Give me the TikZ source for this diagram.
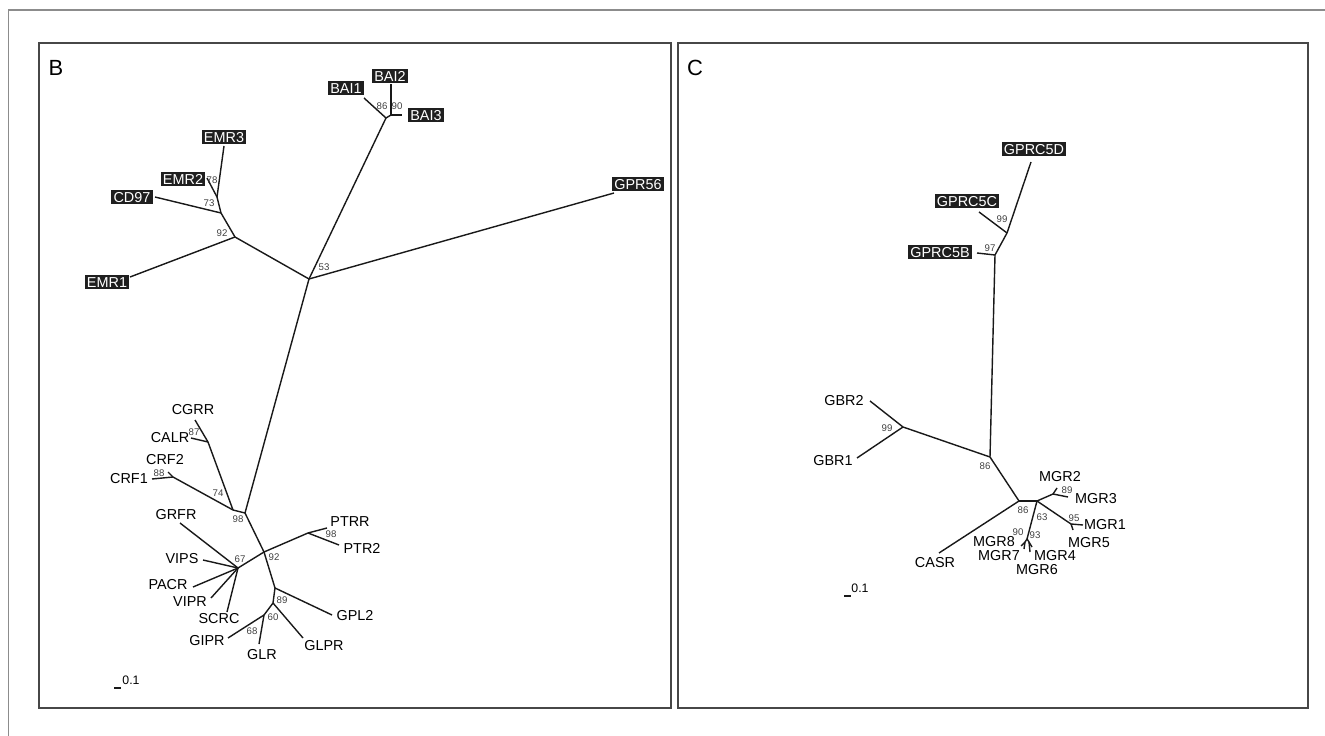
\documentclass[tikz,border=0pt]{standalone}
\usepackage{fontspec}
\setmainfont{Liberation Sans}
\begin{document}
\begin{tikzpicture}[
    x=0.02cm, y=-0.02cm,
    branch/.style={line width=0.8pt, black!90},
    frame/.style={draw=black!72, line width=1.1pt},
    leaf/.style={inner sep=0.8pt, font=\fontsize{8.2}{9}\selectfont},
    hilite/.style={leaf, fill=black!88, text=white, inner xsep=1.2pt, inner ysep=1pt, text height=6pt, text depth=0pt},
    boot/.style={inner sep=0pt, font=\fontsize{5.5}{6}\selectfont, text=black!75},
    panel/.style={inner sep=0pt, font=\fontsize{12.5}{14}\selectfont},
    scalebar/.style={inner sep=0pt, font=\fontsize{7}{8}\selectfont}
]
\useasboundingbox (0,0) rectangle (1325,736);

% outer frame and panels
\draw[black!45, line width=0.8pt] (8.5,736) -- (8.5,10) -- (1325,10);
\draw[frame] (39,43) rectangle (671,708);
\draw[frame] (678,43) rectangle (1308,708);
\node[panel] (labB) at (56,68) {B};
\node[panel] (labC) at (695,68) {C};

% ---------- panel B ----------
\coordinate (root) at (309,279);
\coordinate (bai) at (386,118);
\coordinate (bai23) at (391,115);
\coordinate (emr) at (235,237);
\coordinate (emrcd) at (221,213);
\coordinate (emr23) at (217,197);
\coordinate (secr) at (245,513);
\coordinate (ccrf) at (233,510);
\coordinate (calc) at (208,442);
\coordinate (crf) at (173,477);
\coordinate (glu) at (264,552);
\coordinate (pth) at (308,533);
\coordinate (vip) at (238,568);
\coordinate (gcg) at (275,588);
\coordinate (glp) at (273,603);
\coordinate (gip) at (264,615);

\coordinate (tBAI1) at (364,98);   \node[hilite] (BAI1) at (346,88) {BAI1};
\coordinate (tBAI2) at (391,84);   \node[hilite] (BAI2) at (390,76) {BAI2};
\coordinate (tBAI3) at (402,115);  \node[hilite] (BAI3) at (426,115) {BAI3};
\coordinate (tEMR3) at (224,146);  \node[hilite] (EMR3) at (224,137) {EMR3};
\coordinate (tEMR2) at (207,178);  \node[hilite] (EMR2) at (183,179) {EMR2};
\coordinate (tCD97) at (155,197);  \node[hilite] (CD97) at (132,197) {CD97};
\coordinate (tEMR1) at (130,277);  \node[hilite] (EMR1) at (107,282) {EMR1};
\coordinate (tGPR56) at (614,193); \node[hilite] (GPR56) at (638,184) {GPR56};
\coordinate (tCGRR) at (195,420);  \node[leaf] (CGRR) at (193,410) {CGRR};
\coordinate (tCALR) at (191,438);  \node[leaf] (CALR) at (170,438) {CALR};
\coordinate (tCRF2) at (168,472);  \node[leaf] (CRF2) at (165,460) {CRF2};
\coordinate (tCRF1) at (152,479);  \node[leaf] (CRF1) at (129,479) {CRF1};
\coordinate (tPTRR) at (327,528);  \node[leaf] (PTRR) at (350,522) {PTRR};
\coordinate (tPTR2) at (339,545);  \node[leaf] (PTR2) at (362,548) {PTR2};
\coordinate (tGRFR) at (180,523);  \node[leaf] (GRFR) at (176,515) {GRFR};
\coordinate (tVIPS) at (203,560);  \node[leaf] (VIPS) at (182,559) {VIPS};
\coordinate (tPACR) at (193,587);  \node[leaf] (PACR) at (168,585) {PACR};
\coordinate (tVIPR) at (211,598);  \node[leaf] (VIPR) at (190,602) {VIPR};
\coordinate (tSCRC) at (227,612);  \node[leaf] (SCRC) at (219,619) {SCRC};
\coordinate (tGPL2) at (332,615);  \node[leaf] (GPL2) at (355,616) {GPL2};
\coordinate (tGLPR) at (303,638);  \node[leaf] (GLPR) at (324,646) {GLPR};
\coordinate (tGLR) at (259,644);   \node[leaf] (GLR) at (262,655) {GLR};
\coordinate (tGIPR) at (228,638);  \node[leaf] (GIPR) at (207,641) {GIPR};

\draw[branch] (root) -- (bai);
\draw[branch] (bai) -- (tBAI1);
\draw[branch] (bai) -- (bai23);
\draw[branch] (bai23) -- (tBAI2);
\draw[branch] (bai23) -- (tBAI3);
\draw[branch] (root) -- (tGPR56);
\draw[branch] (root) -- (emr);
\draw[branch] (emr) -- (tEMR1);
\draw[branch] (emr) -- (emrcd);
\draw[branch] (emrcd) -- (tCD97);
\draw[branch] (emrcd) -- (emr23);
\draw[branch] (emr23) -- (tEMR2);
\draw[branch] (emr23) -- (tEMR3);
\draw[branch] (root) -- (secr);
\draw[branch] (secr) -- (ccrf);
\draw[branch] (ccrf) -- (calc);
\draw[branch] (calc) -- (tCGRR);
\draw[branch] (calc) -- (tCALR);
\draw[branch] (ccrf) -- (crf);
\draw[branch] (crf) -- (tCRF2);
\draw[branch] (crf) -- (tCRF1);
\draw[branch] (secr) -- (glu);
\draw[branch] (glu) -- (pth);
\draw[branch] (pth) -- (tPTRR);
\draw[branch] (pth) -- (tPTR2);
\draw[branch] (glu) -- (vip);
\foreach \lf in {GRFR,VIPS,PACR,VIPR,SCRC}
  \draw[branch] (vip) -- (t\lf);
\draw[branch] (glu) -- (gcg);
\draw[branch] (gcg) -- (tGPL2);
\draw[branch] (gcg) -- (glp);
\draw[branch] (glp) -- (tGLPR);
\draw[branch] (glp) -- (gip);
\draw[branch] (gip) -- (tGLR);
\draw[branch] (gip) -- (tGIPR);

% bootstrap values B
\node[boot] at (324,267) {53};
\node[boot] at (382,106) {86};
\node[boot] at (397,106) {90};
\node[boot] at (212,180) {78};
\node[boot] at (209,203) {73};
\node[boot] at (222,233) {92};
\node[boot] at (194,432) {87};
\node[boot] at (159,473) {88};
\node[boot] at (218,493) {74};
\node[boot] at (238,519) {98};
\node[boot] at (274,557) {92};
\node[boot] at (331,534) {98};
\node[boot] at (240,559) {67};
\node[boot] at (282,600) {89};
\node[boot] at (273,617) {60};
\node[boot] at (252,631) {68};

\draw[branch] (114,688) -- (121,688);
\node[scalebar] (sbB) at (131,680) {0.1};

% ---------- panel C ----------
\coordinate (gprc5) at (995,255);
\coordinate (gprc5cd) at (1007,233);
\coordinate (croot) at (990,457);
\coordinate (gbr) at (903,427);
\coordinate (mglu) at (1019,501);
\coordinate (mgr) at (1037,501);
\coordinate (mgr23) at (1053,494);
\coordinate (mgr15) at (1071,524);
\coordinate (mgrlow) at (1027,539);
\coordinate (mgr78) at (1025,542);
\coordinate (mgr46) at (1029,542);

\coordinate (tGPRC5D) at (1031,162); \node[hilite] (GPRC5D) at (1034,149) {GPRC5D};
\coordinate (tGPRC5C) at (979,212);  \node[hilite] (GPRC5C) at (967,201) {GPRC5C};
\coordinate (tGPRC5B) at (977,253);  \node[hilite] (GPRC5B) at (940,252) {GPRC5B};
\coordinate (tGBR2) at (870,401);    \node[leaf] (GBR2) at (844,401) {GBR2};
\coordinate (tGBR1) at (857,458);    \node[leaf] (GBR1) at (833,461) {GBR1};
\coordinate (tCASR) at (939,553);    \node[leaf] (CASR) at (935,563) {CASR};
\coordinate (tMGR2) at (1057,488);   \node[leaf] (MGR2) at (1060,477) {MGR2};
\coordinate (tMGR3) at (1068,497);   \node[leaf] (MGR3) at (1096,499) {MGR3};
\coordinate (tMGR1) at (1083,525);   \node[leaf] (MGR1) at (1105,525) {MGR1};
\coordinate (tMGR5) at (1073,530);   \node[leaf] (MGR5) at (1089,543) {MGR5};
\coordinate (tMGR8) at (1021,546);   \node[leaf] (MGR8) at (994,542) {MGR8};
\coordinate (tMGR7) at (1024,549);   \node[leaf] (MGR7) at (999,556) {MGR7};
\coordinate (tMGR4) at (1032,547);   \node[leaf] (MGR4) at (1055,556) {MGR4};
\coordinate (tMGR6) at (1030,552);   \node[leaf] (MGR6) at (1037,570) {MGR6};

\draw[branch] (croot) -- (gprc5);
\draw[branch] (gprc5) -- (tGPRC5B);
\draw[branch] (gprc5) -- (gprc5cd);
\draw[branch] (gprc5cd) -- (tGPRC5C);
\draw[branch] (gprc5cd) -- (tGPRC5D);
\draw[branch] (croot) -- (gbr);
\draw[branch] (gbr) -- (tGBR2);
\draw[branch] (gbr) -- (tGBR1);
\draw[branch] (croot) -- (mglu);
\draw[branch] (mglu) -- (tCASR);
\draw[branch] (mglu) -- (mgr);
\draw[branch] (mgr) -- (mgr23);
\draw[branch] (mgr23) -- (tMGR2);
\draw[branch] (mgr23) -- (tMGR3);
\draw[branch] (mgr) -- (mgr15);
\draw[branch] (mgr15) -- (tMGR1);
\draw[branch] (mgr15) -- (tMGR5);
\draw[branch] (mgr) -- (mgrlow);
\draw[branch] (mgrlow) -- (mgr78);
\draw[branch] (mgr78) -- (tMGR8);
\draw[branch] (mgr78) -- (tMGR7);
\draw[branch] (mgrlow) -- (mgr46);
\draw[branch] (mgr46) -- (tMGR4);
\draw[branch] (mgr46) -- (tMGR6);

% bootstrap values C
\node[boot] at (1002,219) {99};
\node[boot] at (990,248) {97};
\node[boot] at (887,428) {99};
\node[boot] at (985,466) {86};
\node[boot] at (1023,510) {86};
\node[boot] at (1067,490) {89};
\node[boot] at (1074,518) {95};
\node[boot] at (1042,517) {63};
\node[boot] at (1018,532) {90};
\node[boot] at (1035,535) {93};

\draw[branch] (844,596) -- (851,596);
\node[scalebar] (sbC) at (860,588) {0.1};

\end{tikzpicture}
\end{document}
